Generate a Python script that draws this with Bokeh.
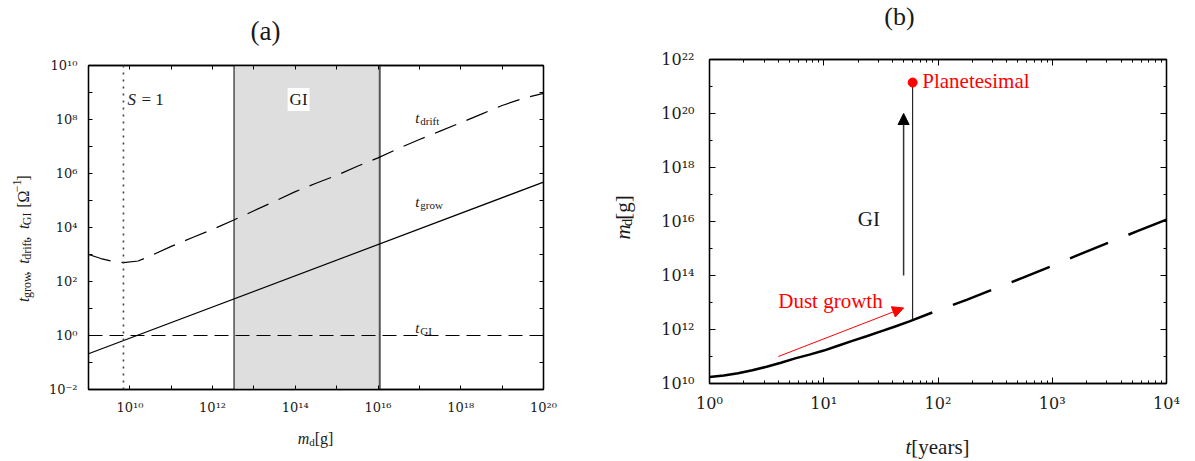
import math
from bokeh.plotting import figure
from bokeh.models import (FixedTicker, LogAxis, Label, Span, Arrow, NormalHead,
                          CustomJSTickFormatter, Range1d)
from bokeh.layouts import row, column
from bokeh.embed import file_html
from bokeh.resources import INLINE

# ---------------- data: panel (a) ----------------
a_mass_range = [1e9, 1e20]
a_time_range = [1e-2, 1e10]
grow_mass = [1e9, 1e20]
grow_time = [0.21, 4.8e5]
gi_mass = [1e9, 1e20]
gi_time = [1.0, 1.0]
drift_log_mass = [9.0, 9.3, 9.6, 9.85, 10.2, 10.5, 11.0, 11.5, 12.0, 12.5, 13.0, 13.5,
                  14.0, 14.5, 15.0, 15.5, 16.0, 16.5, 17.0, 17.5, 18.0, 18.5, 19.0, 19.5, 20.0]
drift_log_time = [3.0, 2.85, 2.74, 2.70, 2.76, 2.95, 3.30, 3.62, 3.93, 4.27, 4.62, 4.97,
                  5.33, 5.64, 5.93, 6.27, 6.58, 6.93, 7.26, 7.57, 7.88, 8.20, 8.52, 8.78, 8.97]
stokes_one_mass = 7e9
gi_region_mass = [3.3e12, 1.1e16]

a_x_major = [1e10, 1e12, 1e14, 1e16, 1e18, 1e20]
a_x_labels = ["10¹⁰", "10¹²", "10¹⁴", "10¹⁶", "10¹⁸", "10²⁰"]
a_x_minor = [1e9, 1e11, 1e13, 1e15, 1e17, 1e19]
a_y_major = [1e-2, 1e0, 1e2, 1e4, 1e6, 1e8, 1e10]
a_y_labels = ["10⁻²", "10⁰", "10²", "10⁴", "10⁶", "10⁸", "10¹⁰"]
a_y_minor = [1e-1, 1e1, 1e3, 1e5, 1e7, 1e9]

# ---------------- data: panel (b) ----------------
b_time_range = [1.0, 1e4]
b_mass_range = [1e10, 1e22]
growth_log_t_solid = [0.0, 0.125, 0.25, 0.375, 0.5, 0.625, 0.75, 0.875, 1.0, 1.125,
                      1.25, 1.375, 1.5, 1.625, 1.75, 1.95]
growth_log_m_solid = [10.24, 10.30, 10.38, 10.49, 10.62, 10.77, 10.93, 11.07, 11.22, 11.40,
                      11.58, 11.75, 11.93, 12.11, 12.30, 12.63]
growth_log_t_dashed = [1.95, 2.25, 2.5, 2.75, 3.0, 3.25, 3.5, 3.75, 4.0]
growth_log_m_dashed = [12.63, 13.10, 13.52, 13.93, 14.36, 14.80, 15.23, 15.65, 16.07]
collapse_time = [60.0, 60.0]
collapse_mass = [2.2e12, 1.4e21]
planetesimal_time = [60.0]
planetesimal_mass = [1.4e21]
gi_arrow_time = [50.0, 50.0]
gi_arrow_mass = [1e14, 1e20]
dust_arrow_time = [4.0, 50.0]
dust_arrow_mass = [1e11, 6.3e12]

b_x_major = [1, 10, 100, 1000, 10000]
b_x_labels = ["10⁰", "10¹", "10²", "10³", "10⁴"]
b_x_minor = [k * 10 ** d for d in range(0, 4) for k in range(2, 10)]
b_y_major = [1e10, 1e12, 1e14, 1e16, 1e18, 1e20, 1e22]
b_y_labels = ["10¹⁰", "10¹²", "10¹⁴", "10¹⁶", "10¹⁸", "10²⁰", "10²²"]
b_y_minor = [1e11, 1e13, 1e15, 1e17, 1e19, 1e21]

FONT = "Liberation Serif"
TICK_FONT = "DejaVu Serif"
INK = "#1a1a1a"

W_REG = {' ': 250, ',': 250, '[': 333, ']': 333, 'Ω': 768, '−': 564, '1': 500, 'g': 500,
         'r': 333, 'o': 500, 'w': 722, 'd': 500, 'i': 278, 'f': 333, 't': 278, 'G': 722,
         'I': 333, 'm': 778, 'e': 444, 'a': 444, 's': 389, 'y': 500, '=': 564}
W_IT = {'t': 278, 'm': 722, 'S': 500}


def tw(s, size, italic):
    tab = W_IT if italic else W_REG
    return sum(tab.get(c, W_REG.get(c, 500)) for c in s) / 1000.0 * size


def label_formatter(vals, labs):
    return CustomJSTickFormatter(args=dict(vals=vals, labs=labs), code="""
        for (let i = 0; i < vals.length; i++) {
            if (Math.abs(Math.log10(tick) - Math.log10(vals[i])) < 1e-6) return labs[i];
        }
        return "";
    """)


def style_axis(ax, major, minor, labels, fsize, tin_major, tin_minor, standoff, show):
    ax.ticker = FixedTicker(ticks=major, minor_ticks=minor)
    if show:
        ax.formatter = label_formatter(major, labels)
    else:
        ax.formatter = CustomJSTickFormatter(code="return '';")
    ax.major_tick_in = tin_major
    ax.major_tick_out = 0
    ax.minor_tick_in = tin_minor
    ax.minor_tick_out = 0
    ax.major_tick_line_color = "black"
    ax.minor_tick_line_color = "black"
    ax.major_tick_line_width = 1
    ax.minor_tick_line_width = 1
    ax.axis_line_color = "black"
    ax.axis_line_width = 1.3
    ax.major_label_text_font = TICK_FONT
    ax.major_label_text_font_size = f"{fsize}px"
    ax.major_label_text_color = INK
    ax.major_label_standoff = standoff


def blank_fig(w, h):
    f = figure(width=w, height=h, x_range=Range1d(0, w), y_range=Range1d(0, h),
               output_backend="svg", toolbar_location=None, min_border=0,
               x_axis_location=None, y_axis_location=None)
    f.grid.visible = False
    f.outline_line_color = None
    f.background_fill_color = "white"
    f.border_fill_color = "white"
    return f


def runs_label(fig, runs, cx, cy, vertical=False, color=INK):
    # runs: (text, size, italic, baseline shift, extra advance after)
    total = sum(tw(t, s, it) + g for t, s, it, sh, g in runs)
    pos = -total / 2.0
    for t, s, it, sh, g in runs:
        if vertical:
            lab = Label(x=cx - sh, y=cy + pos, angle=math.pi / 2)
        else:
            lab = Label(x=cx + pos, y=cy + sh)
        lab.text = t
        lab.text_font = FONT
        lab.text_font_size = f"{s}px"
        lab.text_font_style = "italic" if it else "normal"
        lab.text_color = color
        lab.text_align = "left"
        lab.text_baseline = "alphabetic"
        fig.add_layout(lab)
        pos += tw(t, s, it) + g


def data_label(fig, text, x, y, size, italic=False, color=INK, xoff=0, yoff=0,
               align="left", baseline="middle", **kw):
    lab = Label(x=x, y=y, text=text, text_font=FONT, text_font_size=f"{size}px",
                text_font_style="italic" if italic else "normal", text_color=color,
                x_offset=xoff, y_offset=yoff, text_align=align, text_baseline=baseline, **kw)
    fig.add_layout(lab)


# ======================= panel (a) =======================
pa = figure(width=550, height=366, x_axis_type="log", y_axis_type="log",
            x_range=Range1d(*a_mass_range), y_range=Range1d(*a_time_range),
            output_backend="svg", toolbar_location=None,
            min_border_left=48, min_border_right=47, min_border_top=10, min_border_bottom=32)
pa.grid.visible = False
pa.outline_line_color = "black"
pa.outline_line_width = 1.3

style_axis(pa.xaxis[0], a_x_major, a_x_minor, a_x_labels, 13, 4, 4, 10, True)
style_axis(pa.yaxis[0], a_y_major, a_y_minor, a_y_labels, 13, 4, 4, 11, True)
ax_top = LogAxis()
style_axis(ax_top, a_x_major, a_x_minor, a_x_labels, 13, 4, 4, 1, False)
pa.add_layout(ax_top, "above")
ax_right = LogAxis()
style_axis(ax_right, a_y_major, a_y_minor, a_y_labels, 13, 4, 4, 1, False)
pa.add_layout(ax_right, "right")

pa.quad(left=[gi_region_mass[0]], right=[gi_region_mass[1]],
        bottom=[a_time_range[0]], top=[a_time_range[1]],
        fill_color="#dedede", line_color=None)
pa.segment(x0=[gi_region_mass[0]], x1=[gi_region_mass[0]], y0=[a_time_range[0]], y1=[a_time_range[1]],
           line_color="black", line_width=1)
pa.segment(x0=[gi_region_mass[1]], x1=[gi_region_mass[1]], y0=[a_time_range[0]], y1=[a_time_range[1]],
           line_color="#555555", line_width=2)

pa.add_layout(Span(location=stokes_one_mass, dimension="height", line_color="#444444",
                   line_width=1.6, line_dash="2 5"))

pa.line(grow_mass, grow_time, line_color="black", line_width=1.2)
pa.line(gi_mass, gi_time, line_color="black", line_width=1.2, line_dash="14 7")
pa.line([10 ** v for v in drift_log_mass], [10 ** v for v in drift_log_time],
        line_color="black", line_width=1.2, line_dash="23 11")

# in-plot texts
data_label(pa, "S", 10 ** 9.94, 10 ** 8.74, 17, italic=True)
data_label(pa, "= 1", 10 ** 9.94, 10 ** 8.74, 17, xoff=14)
data_label(pa, "GI", 1.2e14, 10 ** 8.74, 17, align="center",
           background_fill_color="white", padding=2)
for txt, ly in [("drift", 8.07), ("grow", 4.93), ("GI", 0.26)]:
    data_label(pa, "t", 10 ** 16.9, 10 ** ly, 15, italic=True, baseline="alphabetic")
    data_label(pa, txt, 10 ** 16.9, 10 ** ly, 11, xoff=5, baseline="alphabetic", yoff=-3)

# surrounding label panels for (a)
topA = blank_fig(590, 55)
topA.add_layout(Label(x=265, y=25, text="(a)", text_font=FONT, text_font_size="27px",
                      text_color=INK, text_align="center", text_baseline="middle"))
leftA = blank_fig(40, 366)
runs_label(leftA, [("t", 16, True, 0, 0), ("grow", 12, False, -3.5, 1), (",", 16, False, 0, 9),
                   ("t", 16, True, 0, 0), ("drift", 12, False, -3.5, 1), (",", 16, False, 0, 9),
                   ("t", 16, True, 0, 0), ("GI", 12, False, -3.5, 7), ("[Ω", 16, False, 0, 0),
                   ("−1", 12, False, 6.5, 0), ("]", 16, False, 0, 0)], 23, 170, vertical=True)
bottomA = blank_fig(590, 40)
runs_label(bottomA, [("m", 16, True, 0, 0), ("d", 11, False, -3, 0), ("[g]", 16, False, 0, 0)],
           315, 23)

# ======================= panel (b) =======================
pb = figure(width=550, height=370, x_axis_type="log", y_axis_type="log",
            x_range=Range1d(*b_time_range), y_range=Range1d(*b_mass_range),
            output_backend="svg", toolbar_location=None,
            min_border_left=64, min_border_right=29, min_border_top=10, min_border_bottom=36)
pb.grid.visible = False
pb.outline_line_color = "black"
pb.outline_line_width = 1.3

style_axis(pb.xaxis[0], b_x_major, b_x_minor, b_x_labels, 16, 6, 3, 10, True)
style_axis(pb.yaxis[0], b_y_major, b_y_minor, b_y_labels, 16, 6, 3, 15, True)
bx_top = LogAxis()
style_axis(bx_top, b_x_major, b_x_minor, b_x_labels, 16, 6, 3, 1, False)
pb.add_layout(bx_top, "above")
by_right = LogAxis()
style_axis(by_right, b_y_major, b_y_minor, b_y_labels, 16, 6, 3, 1, False)
pb.add_layout(by_right, "right")

pb.line([10 ** v for v in growth_log_t_solid], [10 ** v for v in growth_log_m_solid],
        line_color="black", line_width=2.5)
pb.line([10 ** v for v in growth_log_t_dashed], [10 ** v for v in growth_log_m_dashed],
        line_color="black", line_width=2.5, line_dash="41 22", line_dash_offset=41)
pb.line(collapse_time, collapse_mass, line_color="black", line_width=1)
pb.scatter(planetesimal_time, planetesimal_mass, size=9, color="red")

pb.add_layout(Arrow(end=NormalHead(size=11, fill_color="black", line_color="black"),
                    x_start=gi_arrow_time[0], y_start=gi_arrow_mass[0],
                    x_end=gi_arrow_time[1], y_end=gi_arrow_mass[1],
                    line_color="#333333", line_width=1.5))
pb.add_layout(Arrow(end=NormalHead(size=11, fill_color="red", line_color="red"),
                    x_start=dust_arrow_time[0], y_start=dust_arrow_mass[0],
                    x_end=dust_arrow_time[1], y_end=dust_arrow_mass[1],
                    line_color="red", line_width=1))

data_label(pb, "Planetesimal", 72.8, 10 ** 21.2, 21, color="red")
data_label(pb, "Dust growth", 4.0, 10 ** 13.06, 21, color="red")
data_label(pb, "GI", 24.8, 10 ** 16.09, 21, align="center")

topB = blank_fig(605, 49)
topB.add_layout(Label(x=309, y=33, text="(b)", text_font=FONT, text_font_size="26px",
                      text_color=INK, text_align="center", text_baseline="middle"))
leftB = blank_fig(55, 370)
runs_label(leftB, [("m", 21, True, 0, 0), ("d", 15, False, -4, 0), ("[g]", 21, False, 0, 0)],
           32, 188, vertical=True)
bottomB = blank_fig(605, 42)
runs_label(bottomB, [("t", 21, True, 0, 0), ("[years]", 21, False, 0, 0)], 347, 15)

colA = column(topA, row(leftA, pa), bottomA)
colB = column(topB, row(leftB, pb), bottomB)
layout = row(colA, colB)
open("out.html", "w").write(file_html(layout, INLINE))
